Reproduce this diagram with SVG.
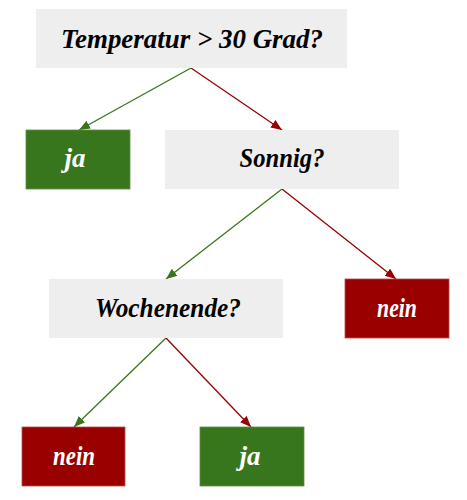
<svg xmlns="http://www.w3.org/2000/svg" width="467" height="500" viewBox="0 0 467 500">
<defs>
<style>
.q{fill:#eeeeee}
.g{fill:#38761d;stroke:#5a8f45;stroke-width:0.8}
.r{fill:#990000;stroke:#b84a4a;stroke-width:0.8}
.t{font-family:"Liberation Serif","DejaVu Serif",serif;font-style:italic;font-weight:bold;font-size:27px;text-anchor:middle}
.dark{fill:#000000}
.light{fill:#ffffff}
.cg{stroke:#38761d;stroke-width:1.3;fill:none;marker-end:url(#ag)}
.cr{stroke:#990000;stroke-width:1.3;fill:none;marker-end:url(#ar)}
</style>
<marker id="ag" markerUnits="userSpaceOnUse" markerWidth="12" markerHeight="10" refX="11" refY="4.5" orient="auto">
<path d="M0,0 L11,4.5 L0,9 z" fill="#38761d"/>
</marker>
<marker id="ar" markerUnits="userSpaceOnUse" markerWidth="12" markerHeight="10" refX="11" refY="4.5" orient="auto">
<path d="M0,0 L11,4.5 L0,9 z" fill="#990000"/>
</marker>
</defs>
<rect width="467" height="500" fill="#ffffff"/>
<g id="connectors">
<line class="cg" x1="191" y1="68" x2="79" y2="130"/>
<line class="cr" x1="191" y1="68" x2="282" y2="130"/>
<line class="cg" x1="282" y1="189" x2="166" y2="279"/>
<line class="cr" x1="282" y1="189" x2="396" y2="279"/>
<line class="cg" x1="166" y1="338" x2="74" y2="427"/>
<line class="cr" x1="166" y1="338" x2="251" y2="427"/>
</g>
<g id="n-temp">
<rect class="q" x="36" y="9" width="311" height="59"/>
<text class="t dark" x="192" y="48" textLength="262" lengthAdjust="spacingAndGlyphs">Temperatur &gt; 30 Grad?</text>
</g>
<g id="n-ja1">
<rect class="g" x="26" y="130" width="104" height="59"/>
<text class="t light" x="75" y="167">ja</text>
</g>
<g id="n-sonnig">
<rect class="q" x="165" y="130" width="234" height="59"/>
<text class="t dark" x="282" y="167" textLength="85" lengthAdjust="spacingAndGlyphs">Sonnig?</text>
</g>
<g id="n-wochenende">
<rect class="q" x="49" y="279" width="234" height="59"/>
<text class="t dark" x="168" y="317" textLength="146" lengthAdjust="spacingAndGlyphs">Wochenende?</text>
</g>
<g id="n-nein1">
<rect class="r" x="345" y="279" width="104" height="59"/>
<text class="t light" x="397" y="317" textLength="40" lengthAdjust="spacingAndGlyphs">nein</text>
</g>
<g id="n-nein2">
<rect class="r" x="22" y="427" width="103" height="59"/>
<text class="t light" x="74" y="465" textLength="42" lengthAdjust="spacingAndGlyphs">nein</text>
</g>
<g id="n-ja2">
<rect class="g" x="200" y="427" width="104" height="59"/>
<text class="t light" x="250" y="465">ja</text>
</g>
</svg>
